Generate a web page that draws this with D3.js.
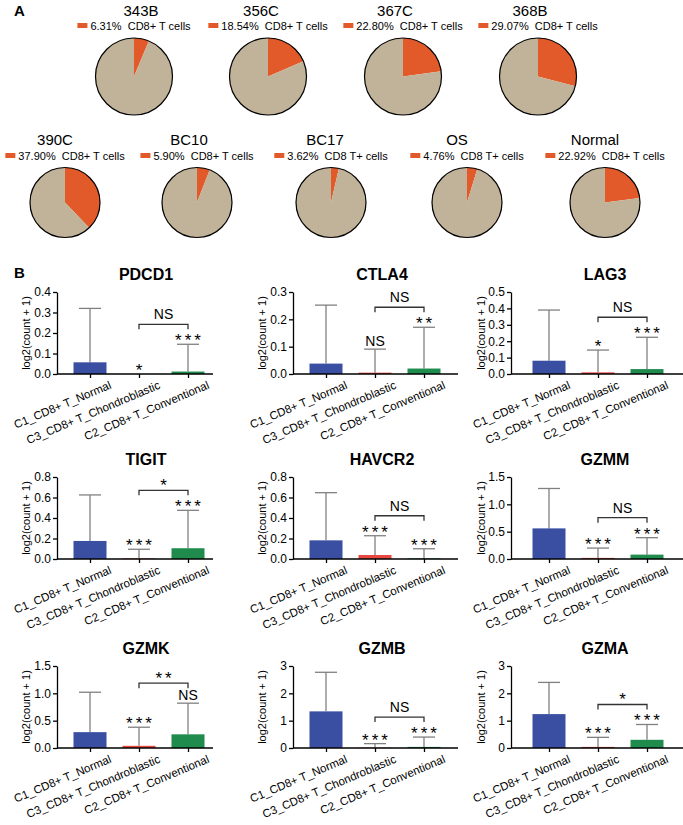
<!DOCTYPE html>
<html><head><meta charset="utf-8">
<script src="https://cdn.jsdelivr.net/npm/d3@7"></script>
<style>
html,body{margin:0;padding:0;background:#fff;}
text{font-family:"Liberation Sans",Arial,Helvetica,sans-serif;}
</style></head>
<body><svg id="chart" width="683" height="825"></svg>
<script>
// ---------- DATA ----------
const pieSamples  = ["343B","356C","367C","368B","390C","BC10","BC17","OS","Normal"];
const piePercents = [6.31,18.54,22.80,29.07,37.90,5.90,3.62,4.76,22.92];
const pieLabels   = ["CD8+ T cells","CD8+ T cells","CD8+ T cells","CD8+ T cells","CD8+ T cells","CD8+ T cells","CD8 T+ cells","CD8 T+ cells","CD8+ T cells"];

const genes  = ["PDCD1","CTLA4","LAG3","TIGIT","HAVCR2","GZMM","GZMK","GZMB","GZMA"];
const groups = ["C1_CD8+ T_Normal","C3_CD8+ T_Chondroblastic","C2_CD8+ T_Conventional"];
const meanValues = [
  [0.057,0.000,0.012],
  [0.038,0.005,0.020],
  [0.081,0.010,0.030],
  [0.176,0.005,0.105],
  [0.182,0.039,0.006],
  [0.56,0.02,0.08],
  [0.29,0.04,0.25],
  [1.34,0.01,0.04],
  [1.24,0.04,0.30]
];
const errorTops = [
  [0.32,0.000,0.145],
  [0.252,0.091,0.171],
  [0.39,0.146,0.224],
  [0.625,0.095,0.475],
  [0.647,0.227,0.10],
  [1.29,0.20,0.39],
  [1.02,0.38,0.82],
  [2.77,0.16,0.40],
  [2.40,0.39,0.86]
];
const yMax  = [0.4,0.3,0.5,0.8,0.8,1.5,1.5,3,3];
const yStep = [0.1,0.1,0.1,0.2,0.2,0.5,0.5,1,1];
const groupSig = [
  ["","*","***"],["","NS","**"],["","*","***"],
  ["","***","***"],["","***","***"],["","***","***"],
  ["","***","NS"],["","***","***"],["","***","***"]
];
const bracketSig = ["NS","NS","NS","*","NS","NS","**","NS","*"];
const yLabel = "log2(count + 1)";

// ---------- STYLE / LAYOUT ----------
const orange = "#e35a2a", beige = "#c1b399";
const barColors = ["#3a4fa2","#e8483f","#1f8b4c"];
const svg = d3.select("#chart");
svg.append("rect").attr("width",683).attr("height",825).attr("fill","#fff");

svg.append("text").attr("x",14).attr("y",16).attr("font-size",15).attr("font-weight","bold").text("A");
svg.append("text").attr("x",14).attr("y",278).attr("font-size",15).attr("font-weight","bold").text("B");

// Pie layout
const pieRows = [
  {idx:[0,1,2,3], cx:[134,268,403,538], cy:76.5, r:38.5, titleY:16, legY:30, tdx:[7,-7,-8,-8]},
  {idx:[4,5,6,7,8], cx:[65,197,331,467,605], cy:202.5, r:35, titleY:145, legY:160, tdx:[-10,-8,-6,-10,-10]}
];
const pieGen = d3.pie().sort(null).value(d=>d);
pieRows.forEach(row=>{
  row.idx.forEach((k,j)=>{
    const cx=row.cx[j];
    const g=svg.append("g");
    g.append("text").attr("x",cx+row.tdx[j]).attr("y",row.titleY).attr("text-anchor","middle")
      .attr("font-size",15).text(pieSamples[k]);
    const lg=g.append("g");
    lg.append("rect").attr("x",0).attr("y",-7).attr("width",10).attr("height",5).attr("fill",orange);
    const t=lg.append("text").attr("x",13).attr("y",0).attr("font-size",11).style("white-space","pre")
      .text(piePercents[k].toFixed(2)+"%  "+pieLabels[k]);
    const w=13+t.node().getComputedTextLength();
    lg.attr("transform",`translate(${cx-w/2},${row.legY})`);
    const pg=g.append("g").attr("transform",`translate(${cx},${row.cy})`);
    const arc=d3.arc().innerRadius(0).outerRadius(row.r);
    pg.selectAll("path").data(pieGen([piePercents[k],100-piePercents[k]])).join("path")
      .attr("d",arc).attr("fill",(d,i)=>i===0?orange:beige);
    pg.append("circle").attr("r",row.r).attr("fill","none").attr("stroke","#000").attr("stroke-width",1.2);
  });
});

// Bar panels
const colAxisX=[57,293,511], colOff=[0,0,5], colLen=[156,165,172], yLabDx=[-31,-31,-30];
const rowZeroY=[374,559,748];
const plotH=82;
genes.forEach((gene,p)=>{
  const c=p%3, r=Math.floor(p/3);
  const ax=colAxisX[c], zy=rowZeroY[r];
  const g=svg.append("g");
  const y=d3.scaleLinear().domain([0,yMax[p]]).range([zy,zy-plotH]);
  const x=d3.scalePoint().domain(groups).range([ax+colOff[c]+33, ax+colOff[c]+131]);
  const bw=33;
  g.append("text").attr("x",ax+colOff[c]+89).attr("y",zy-94).attr("text-anchor","middle")
    .attr("font-size",16).attr("font-weight","bold").text(gene);
  g.append("text").attr("transform",`translate(${ax+yLabDx[c]},${zy-plotH/2}) rotate(-90)`)
    .attr("text-anchor","middle").attr("dominant-baseline","central").attr("font-size",11).text(yLabel);
  const rows=groups.map((gr,i)=>({gr,i,m:meanValues[p][i],e:errorTops[p][i],sig:groupSig[p][i]}));
  rows.forEach(d=>{
    if(d.e>d.m){
      g.append("line").attr("x1",x(d.gr)).attr("x2",x(d.gr)).attr("y1",y(d.m)).attr("y2",y(d.e))
        .attr("stroke","#808080").attr("stroke-width",1.3);
      g.append("line").attr("x1",x(d.gr)-11).attr("x2",x(d.gr)+11).attr("y1",y(d.e)).attr("y2",y(d.e))
        .attr("stroke","#808080").attr("stroke-width",1.3);
    }
  });
  g.selectAll("rect.bar").data(rows).join("rect").attr("class","bar")
    .attr("x",d=>x(d.gr)-bw/2).attr("width",bw)
    .attr("y",d=>y(d.m)).attr("height",d=>zy-y(d.m)).attr("fill",d=>barColors[d.i]);
  const ticks=d3.range(0,yMax[p]+1e-9,yStep[p]);
  const fmt=yStep[p]<1?d3.format(".1f"):d3.format("d");
  const ya=g.append("g").attr("transform",`translate(${ax},0)`)
    .call(d3.axisLeft(y).tickValues(ticks).tickFormat(fmt).tickSize(4).tickSizeOuter(0).tickPadding(2));
  ya.selectAll("text").attr("font-size",12).attr("fill","#000").attr("font-family",null);
  ya.selectAll("line,path").attr("stroke","#000").attr("stroke-width",1.3);
  const xa=g.append("g").attr("transform",`translate(0,${zy})`)
    .call(d3.axisBottom(x).tickSize(4).tickFormat(""));
  xa.select(".domain").remove();
  xa.selectAll("line").attr("stroke","#000").attr("stroke-width",1.3);
  g.append("line").attr("x1",ax).attr("x2",ax+colLen[c]).attr("y1",zy).attr("y2",zy)
    .attr("stroke","#000").attr("stroke-width",1.5);
  groups.forEach(gr=>{
    g.append("text").attr("transform",`translate(${x(gr)+22},${zy+14}) rotate(-23)`)
      .attr("text-anchor","end").attr("font-size",11.5).text(gr);
  });
  const addSig=(txt,cx,yy)=>{
    if(!txt) return;
    const star=txt.includes("*");
    g.append("text").attr("x",cx+(star?1.5:0)).attr("y",star?yy+2:yy-3).attr("text-anchor","middle")
      .attr("font-size",star?17:14).attr("letter-spacing",star?3:0).text(txt);
  };
  rows.forEach(d=>addSig(d.sig,x(d.gr),y(d.e)));
  const by=Math.min(y(errorTops[p][1]),y(errorTops[p][2]))-20;
  const x1=x(groups[1]), x2=x(groups[2]);
  g.append("path").attr("d",`M${x1},${by+5}V${by}H${x2}V${by+5}`).attr("fill","none")
    .attr("stroke","#333").attr("stroke-width",1.3);
  addSig(bracketSig[p],(x1+x2)/2,by-(bracketSig[p].includes("*")?1:2));
});
</script></body></html>
